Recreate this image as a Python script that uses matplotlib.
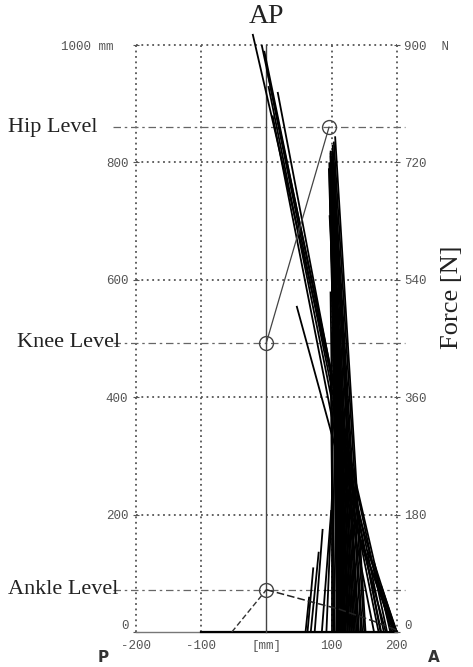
import numpy as np
import matplotlib.pyplot as plt
from matplotlib.transforms import blended_transform_factory

# ground reaction force vectors over stance: centre of pressure (mm) and force components (N)
cop_x = [60, 63, 68, 74, 85, 92, 100, 103, 105,
         108, 109, 110, 111, 112, 113, 114, 115, 116, 117, 118, 119, 120, 121, 122, 124,
         125, 127, 128, 130, 131, 133, 134, 136, 138, 140, 142, 145, 147, 150, 152,
         165, 172, 175, 176, 180, 183, 185, 190,
         192, 195, 197, 198, 199, 200, 200]
force_x = [5, 8, 11, 11, 13, 8, 0, -4, -6,
           -7, -9, -11, -12, -14, -13, -14, -15, -14, -17, -20, -19, -20, -21, -20, -22,
           -20, -25, -28, -28, -29, -30, -30, -31, -31, -33, -38, -40, -41, -42, -42,
           -140, -152, -142, -158, -165, -123, -173, -190,
           -65, -58, -50, -39, -31, -22, -13]
force_z = [54, 99, 123, 158, 187, 216, 297, 405, 522,
           630, 660, 684, 702, 720, 730, 738, 735, 729, 720, 711, 702, 693, 680, 666, 657,
           648, 643, 639, 648, 657, 670, 684, 697, 711, 720, 729, 738, 747, 752, 760,
           792, 837, 828, 864, 891, 500, 900, 917,
           261, 180, 149, 126, 108, 72, 36]

# leg segments (mm)
hip = (96, 860)
knee = (0, 493)
ankle = (0, 72)
heel = (-53, 0)
foot_x = [0, 70, 111, 168, 200]
foot_y = [72, 51, 39, 17, 3]
level_names = ['Hip Level', 'Knee Level', 'Ankle Level']
level_y = [860, 493, 72]
label_left = [0.017, 0.036, 0.017]   # figure fraction where each label starts

mm_per_N = 1000 / 900
grey = '#555555'

fig = plt.figure(figsize=(4.73, 6.67), dpi=100)
ax = fig.add_axes([0.2875, 0.0525, 0.5515, 0.88])
ax.set_xlim(-200, 200)
ax.set_ylim(0, 1000)
for s in ax.spines.values():
    s.set_visible(False)

# dotted grid, including the outer frame
for x in [-200, -100, 100, 200]:
    ax.plot([x, x], [0, 1000], ls=(0, (1, 2)), color=grey, lw=1.3, clip_on=False)
for y in [200, 400, 600, 800, 1000]:
    ax.plot([-200, 200], [y, y], ls=(0, (1, 2)), color=grey, lw=1.3, clip_on=False)
ax.plot([-200, 200], [0, 0], color='#777777', lw=1.0, clip_on=False)
ax.plot([-100, 200], [0, 0], color='black', lw=1.6, clip_on=False)

# joint level lines, labels placed in figure x / data y
lbl_trans = blended_transform_factory(fig.transFigure, ax.transData)
for name, y, lx in zip(level_names, level_y, label_left):
    ax.plot([-235, 212], [y, y], ls=(0, (6, 3, 2, 3)), color='#666666', lw=0.9, clip_on=False)
    ax.text(lx, y, name, transform=lbl_trans, ha='left', va='center', fontsize=16,
            family='Liberation Serif', color='#222222')

# vertical reference line through the ankle
ax.plot([0, 0], [0, 1000], color='#444444', lw=1.0, clip_on=False)

# force vectors
for c, fx, fz in zip(cop_x, force_x, force_z):
    ax.plot([c, c + fx * mm_per_N], [0, fz * mm_per_N], color='black', lw=1.3,
            clip_on=False, solid_capstyle='butt')

# leg and foot
ax.plot([knee[0], hip[0]], [knee[1], hip[1]], color='#444444', lw=0.9)
ax.plot([heel[0], ankle[0]], [heel[1], ankle[1]], ls=(0, (4, 2)), color='#333333', lw=1.0)
ax.plot(foot_x, foot_y, ls=(0, (5, 2)), color='#222222', lw=1.1)
for p in (hip, knee, ankle):
    ax.plot(*p, 'o', mfc='none', mec='#444444', ms=10, mew=1.0)

# axis labels
ax.set_xticks([-200, -100, 0, 100, 200])
ax.set_xticklabels(['-200', '-100', '[mm]', '100', '200'])
ax.set_yticks([0, 200, 400, 600, 800, 1000])
ax.set_yticklabels(['0', '200', '400', '600', '800', '1000 mm  '])
ax.tick_params(axis='x', length=0, pad=6, labelsize=9, labelcolor=grey)
ax.tick_params(axis='y', length=5, direction='inout', color=grey, pad=3,
               labelsize=9, labelcolor=grey)
for t in ax.get_xticklabels() + ax.get_yticklabels():
    t.set_family('Liberation Mono')
ax.get_yticklabels()[0].set_va('bottom')

ax2 = ax.twinx()
ax2.set_ylim(0, 900)
for s in ax2.spines.values():
    s.set_visible(False)
ax2.set_yticks([0, 180, 360, 540, 720, 900])
ax2.set_yticklabels(['0', '180', '360', '540', '720', '900  N'])
ax2.tick_params(axis='y', length=5, direction='inout', color=grey, pad=3,
                labelsize=9, labelcolor=grey)
for t in ax2.get_yticklabels():
    t.set_family('Liberation Mono')
ax2.get_yticklabels()[0].set_va('bottom')
fig.text(0.955, 0.555, 'Force [N]', rotation=90, ha='center', va='center',
         family='Liberation Serif', fontsize=19, color='#222222')

ax.set_title('AP', family='Liberation Serif', fontsize=20, pad=16, color='#222222')
fig.text(0.207, 0.008, 'P', fontsize=11, weight='bold', color='#333333')
fig.text(0.905, 0.008, 'A', fontsize=11, weight='bold', color='#333333')

fig.savefig('out.png', dpi=100)
